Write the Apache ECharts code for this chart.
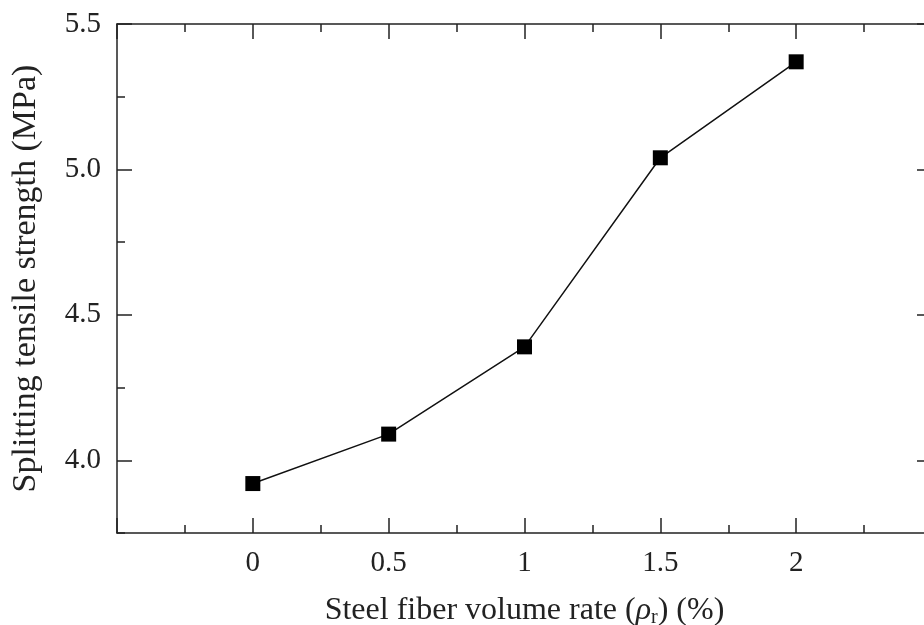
<!DOCTYPE html>
<html>
<head>
<meta charset="utf-8">
<script src="https://cdn.jsdelivr.net/npm/echarts@6/dist/echarts.min.js"></script>
<style>
  html, body { margin: 0; padding: 0; background: #fff; }
  #chart { width: 924px; height: 625px; }
</style>
</head>
<body>
<div id="chart"></div>
<script>
  // fiber volume rate (%) and splitting tensile strength (MPa)
  const fiberRate = [0, 0.5, 1, 1.5, 2]
  const strength = [3.92, 4.09, 4.39, 5.04, 5.37]
  const yMajorTicks = [4.0, 4.5, 5.0, 5.5]

  const font = 'Liberation Serif'
  const ink = '#222'

  const chart = echarts.init(document.getElementById('chart'), null, { renderer: 'canvas' })

  const xBase = {
    type: 'value',
    min: -0.5,
    max: 2.5,
    interval: 0.5,
    axisLine: { show: true, onZero: false, lineStyle: { color: ink, width: 1.5 } },
    axisTick: { show: true, inside: true, length: 15, lineStyle: { color: ink, width: 1.5 } },
    minorTick: { show: true, splitNumber: 2, length: 8, lineStyle: { color: ink, width: 1.5 } },
    splitLine: { show: false }
  }

  // every 0.25 gets a short tick
  const yMinor = {
    type: 'value',
    min: 3.75,
    max: 5.5,
    interval: 0.25,
    axisLine: { show: true, onZero: false, lineStyle: { color: ink, width: 1.5 } },
    axisTick: { show: true, inside: true, length: 8, lineStyle: { color: ink, width: 1.5 } },
    splitLine: { show: false }
  }

  // long ticks on the labelled values, drawn over the short ones
  const yMajor = {
    type: 'value',
    min: 3.75,
    max: 5.5,
    interval: 0.25,
    axisLine: { show: false, onZero: false },
    axisTick: { show: true, inside: true, length: 15, customValues: yMajorTicks, lineStyle: { color: ink, width: 1.5 } },
    axisLabel: { show: false },
    splitLine: { show: false }
  }

  const option = {
    animation: false,
    backgroundColor: '#fff',
    grid: { left: 117, top: 24, width: 815, height: 509, containLabel: false, outerBoundsMode: 'none' },
    xAxis: [
      Object.assign({}, xBase, {
        position: 'bottom',
        name: '{t|Steel fiber volume rate (}{i|ρ}{s|r}{t|) (%)}',
        nameLocation: 'middle',
        nameGap: 61,
        nameTextStyle: {
          rich: {
            t: { fontFamily: font, fontSize: 32, color: ink },
            i: { fontFamily: font, fontSize: 32, fontStyle: 'italic', color: ink },
            s: { fontFamily: font, fontSize: 20, color: ink, verticalAlign: 'bottom', padding: [14, 0, 0, 0] }
          }
        },
        axisLabel: {
          margin: 16,
          fontFamily: font,
          fontSize: 29,
          color: ink,
          formatter: function (v) { return v < 0 || v > 2 ? '' : String(v) }
        }
      }),
      Object.assign({}, xBase, { position: 'top', axisLabel: { show: false } })
    ],
    yAxis: [
      Object.assign({}, yMinor, {
        position: 'left',
        name: 'Splitting tensile strength (MPa)',
        nameLocation: 'middle',
        nameGap: 74,
        nameTextStyle: { fontFamily: font, fontSize: 34, color: ink },
        axisLabel: {
          margin: 16,
          fontFamily: font,
          fontSize: 29,
          color: ink,
          customValues: yMajorTicks,
          formatter: function (v) { return v.toFixed(1) }
        }
      }),
      Object.assign({}, yMajor, { position: 'left', offset: 0 }),
      Object.assign({}, yMinor, { position: 'right', offset: 0, axisLabel: { show: false } }),
      Object.assign({}, yMajor, { position: 'right', offset: 0 })
    ],
    series: [
      {
        type: 'line',
        xAxisIndex: 0,
        yAxisIndex: 0,
        data: fiberRate.map((x, i) => [x, strength[i]]),
        symbol: 'rect',
        symbolSize: 15,
        itemStyle: { color: '#000' },
        lineStyle: { color: '#111', width: 1.5 }
      }
    ]
  }

  chart.setOption(option)
</script>
</body>
</html>
